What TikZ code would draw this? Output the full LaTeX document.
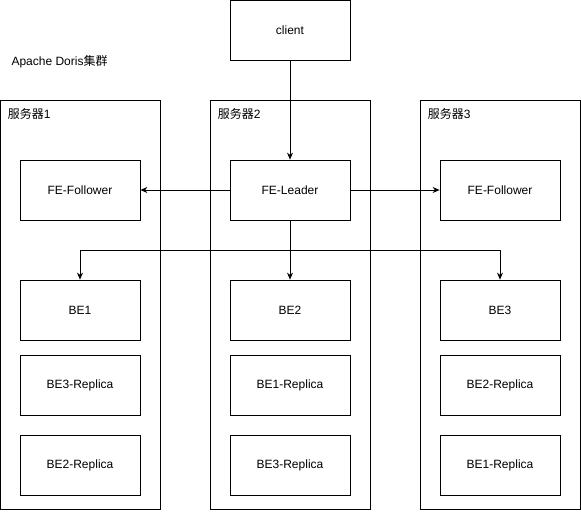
\documentclass[tikz,border=0pt]{standalone}
\usepackage{fontspec}
\setmainfont{Liberation Sans}
\newfontfamily\cjk{Noto Sans CJK SC}
\usetikzlibrary{arrows.meta}

\begin{document}
\begin{tikzpicture}[x=1pt,y=-1pt,>={Stealth[length=7pt,width=6pt]},
	font=\fontsize{12}{14}\selectfont,
	box/.style={draw,line width=0.8pt,minimum width=120pt,minimum height=60pt,inner sep=0pt},
	server/.style={draw,line width=0.8pt,minimum width=160pt,minimum height=409pt,inner sep=0pt},
	srvlabel/.style={anchor=west,inner sep=0pt},
	conn/.style={line width=0.8pt}]
	
	\useasboundingbox (0,0) rectangle (581,512);
	
	% Client
	\node[box] (client) at (290,30) {client};
	\node[anchor=west] (title) at (8,62) {Apache Doris{\cjk 集群}};
	
	% The three servers
	\node[server] (srvA) at (80,304.5) {};
	\node[server] (srvB) at (290,304.5) {};
	\node[server] (srvC) at (500,304.5) {};
	\node[srvlabel] (lblA) at ([xshift=8pt,yshift=-14pt]srvA.north west) {{\cjk 服务器}1};
	\node[srvlabel] (lblB) at ([xshift=8pt,yshift=-14pt]srvB.north west) {{\cjk 服务器}2};
	\node[srvlabel] (lblC) at ([xshift=8pt,yshift=-14pt]srvC.north west) {{\cjk 服务器}3};
	
	% FE row
	\node[box] (folA) at (80,190) {FE-Follower};
	\node[box] (leader) at (290,190) {FE-Leader};
	\node[box] (folC) at (500,190) {FE-Follower};
	
	% BE row
	\node[box] (beA) at (80,310) {BE1};
	\node[box] (beB) at (290,310) {BE2};
	\node[box] (beC) at (500,310) {BE3};
	
	% Replicas
	\node[box] (repA1) at (80,385) {BE3-Replica};
	\node[box] (repB1) at (290,385) {BE1-Replica};
	\node[box] (repC1) at (500,385) {BE2-Replica};
	\node[box] (repA2) at (80,465) {BE2-Replica};
	\node[box] (repB2) at (290,465) {BE3-Replica};
	\node[box] (repC2) at (500,465) {BE1-Replica};
	
	% Connections
	\draw[conn,->] (client) -- (leader);
	\draw[conn,->] (leader) -- (folA);
	\draw[conn,->] (leader) -- (folC);
	\draw[conn,->] (leader) -- (beB);
	\coordinate (split) at (290,250);
	\draw[conn,->] (split) -| (beA);
	\draw[conn,->] (split) -| (beC);
	
\end{tikzpicture}
\end{document}
